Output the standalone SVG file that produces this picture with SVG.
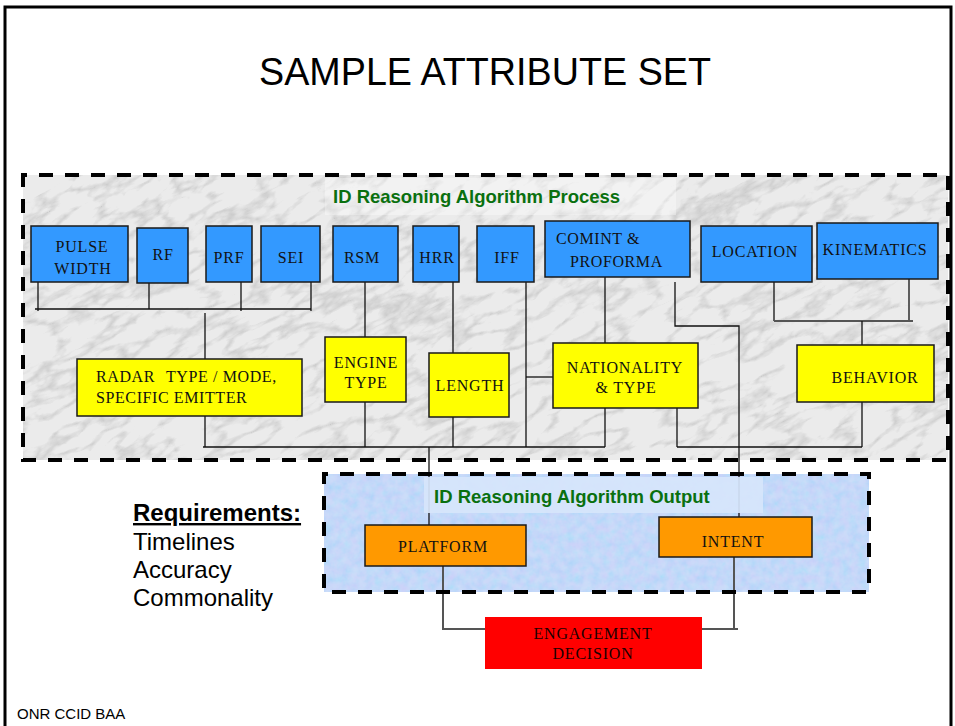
<svg xmlns="http://www.w3.org/2000/svg" width="955" height="726" viewBox="0 0 955 726">
<style>
.frame{fill:none;stroke:#000;stroke-width:3}
.dash{stroke:#000;stroke-width:4;stroke-dasharray:14 12}
.blue{fill:#3399ff;stroke:#1a1a1a;stroke-width:1.5}
.yel{fill:#ffff00;stroke:#1a1a1a;stroke-width:1.5}
.org{fill:#ff9900;stroke:#1a1a1a;stroke-width:1.5}
.red{fill:#ff0000}
.lbl{font-family:"Liberation Serif","Times New Roman",serif;font-size:16px;letter-spacing:0.8px;fill:#111;text-anchor:middle}
.lbll{font-family:"Liberation Serif","Times New Roman",serif;font-size:16px;letter-spacing:0.6px;fill:#111}
.grn{font-family:"Liberation Sans",Arial,sans-serif;font-size:18.5px;font-weight:bold;fill:#0a700f}
.sans{font-family:"Liberation Sans",Arial,sans-serif;fill:#000}
#connectors line,#connectors polyline{stroke:#111;stroke-width:1.3;fill:none}
#connectors .gr{stroke:#555;stroke-width:2}
</style>
<defs>
<filter id="marble" x="0" y="0" width="100%" height="100%" filterUnits="objectBoundingBox">
<feTurbulence type="turbulence" baseFrequency="0.02 0.05" numOctaves="4" seed="7" result="t"/>
<feColorMatrix in="t" type="matrix" values="0 0 0 0 0.5  0 0 0 0 0.5  0 0 0 0 0.5  -2.4 0 0 0 0.7"/>
</filter>
<filter id="speck" x="0" y="0" width="100%" height="100%" filterUnits="objectBoundingBox">
<feTurbulence type="fractalNoise" baseFrequency="0.12" numOctaves="3" seed="4"/>
<feColorMatrix type="matrix" values="1.1 0 0 0 0.25  0 0.5 0 0 0.6  0 0 0 0 1  0 0 0 0 0.3"/>
</filter>
<clipPath id="procClip"><rect x="23" y="175" width="925" height="285"/></clipPath>
<clipPath id="outClip"><rect x="324" y="474" width="545" height="118"/></clipPath>
</defs>
<rect width="955" height="726" fill="#fff"/>
<path class="frame" d="M5,740 V7 H951 V740"/>
<text class="sans" x="485" y="85" font-size="39" text-anchor="middle" textLength="452" lengthAdjust="spacingAndGlyphs">SAMPLE ATTRIBUTE SET</text>

<g id="process-area">
<rect x="23" y="175" width="925" height="285" fill="#ebebeb"/>
<g clip-path="url(#procClip)">
<rect x="-100" y="0" width="1200" height="700" filter="url(#marble)" transform="rotate(-28 485 318)"/>
</g>
<rect x="325" y="178" width="351" height="37" fill="#fff" opacity="0.35"/>
<path class="dash" fill="none" d="M23,185 V175 H948 V460 H23 Z"/>
<text class="grn" x="333" y="203">ID Reasoning Algorithm Process</text>
</g>

<g id="output-area">
<rect x="324" y="474" width="545" height="118" fill="#b4cff7"/>
<g clip-path="url(#outClip)">
<rect x="324" y="474" width="545" height="118" filter="url(#speck)"/>
</g>
</g>

<g id="connectors">
<line x1="38" y1="282" x2="38" y2="311"/>
<line x1="149" y1="283" x2="149" y2="309"/>
<line x1="241" y1="282" x2="241" y2="311"/>
<line x1="311" y1="282" x2="311" y2="311"/>
<line x1="35" y1="309" x2="311" y2="309"/>
<line x1="205" y1="313" x2="205" y2="359"/>
<line x1="205" y1="416" x2="205" y2="447"/>
<line x1="365" y1="282" x2="365" y2="337"/>
<line x1="365" y1="402" x2="365" y2="447"/>
<line x1="453" y1="282" x2="453" y2="353"/>
<line x1="453" y1="417" x2="453" y2="447"/>
<line x1="526" y1="282" x2="526" y2="447"/>
<line x1="526" y1="377" x2="553" y2="377"/>
<line x1="605" y1="277" x2="605" y2="343"/>
<line x1="605" y1="408" x2="605" y2="447"/>
<line x1="203" y1="447" x2="605" y2="447"/>
<polyline points="675,282 675,326 739,326 739,517"/>
<line x1="429" y1="447" x2="429" y2="525"/>
<line x1="677" y1="408" x2="677" y2="447"/>
<line x1="677" y1="447" x2="862" y2="447"/>
<line x1="862" y1="402" x2="862" y2="447"/>
<line x1="774" y1="282" x2="774" y2="321"/>
<line x1="909" y1="279" x2="909" y2="321"/>
<line class="gr" x1="774" y1="321" x2="913" y2="321"/>
<line x1="862" y1="321" x2="862" y2="345"/>
<polyline class="gr" points="443,566 443,629 485,629"/>
<polyline class="gr" points="702,629 738,629"/>
<line class="gr" x1="734" y1="557" x2="734" y2="629"/>
</g>

<g id="output-frame">
<rect x="424" y="477" width="339" height="36" fill="#d6e5fb" opacity="0.93"/>
<path class="dash" fill="none" d="M324,484 V474 H869 V592 H324 Z"/>
<text class="grn" x="434" y="503">ID Reasoning Algorithm Output</text>
</g>

<g id="pulse-width"><rect class="blue" x="31" y="226" width="97" height="56"/><text class="lbl" x="82" y="252">PULSE</text><text class="lbl" x="83" y="274">WIDTH</text></g>
<g id="rf"><rect class="blue" x="137" y="228" width="51" height="55"/><text class="lbl" x="163" y="260">RF</text></g>
<g id="prf"><rect class="blue" x="206" y="226" width="46" height="56"/><text class="lbl" x="229" y="263">PRF</text></g>
<g id="sei"><rect class="blue" x="261" y="226" width="59" height="56"/><text class="lbl" x="291" y="263">SEI</text></g>
<g id="rsm"><rect class="blue" x="333" y="226" width="65" height="56"/><text class="lbl" x="362" y="263">RSM</text></g>
<g id="hrr"><rect class="blue" x="413" y="226" width="46" height="56"/><text class="lbl" x="437" y="263">HRR</text></g>
<g id="iff"><rect class="blue" x="477" y="226" width="57" height="56"/><text class="lbl" x="507" y="263">IFF</text></g>
<g id="comint"><rect class="blue" x="545" y="221" width="145" height="56"/><text class="lbll" x="556" y="244">COMINT &amp;</text><text class="lbll" x="570" y="267">PROFORMA</text></g>
<g id="location"><rect class="blue" x="701" y="226" width="111" height="56"/><text class="lbl" x="755" y="257">LOCATION</text></g>
<g id="kinematics"><rect class="blue" x="817" y="223" width="121" height="56"/><text class="lbl" x="875" y="255">KINEMATICS</text></g>

<g id="radar"><rect class="yel" x="77" y="359" width="225" height="57"/><text class="lbll" y="382"><tspan x="96">RADAR</tspan><tspan x="166">TYPE / MODE,</tspan></text><text class="lbll" x="96" y="403">SPECIFIC EMITTER</text></g>
<g id="engine-type"><rect class="yel" x="325" y="337" width="81" height="65"/><text class="lbl" x="366" y="368">ENGINE</text><text class="lbl" x="366" y="388">TYPE</text></g>
<g id="length"><rect class="yel" x="429" y="353" width="80" height="64"/><text class="lbl" x="470" y="391">LENGTH</text></g>
<g id="nationality"><rect class="yel" x="553" y="343" width="145" height="65"/><text class="lbl" x="625" y="373">NATIONALITY</text><text class="lbl" x="626" y="393">&amp; TYPE</text></g>
<g id="behavior"><rect class="yel" x="797" y="345" width="137" height="57"/><text class="lbl" x="875" y="383">BEHAVIOR</text></g>

<g id="platform"><rect class="org" x="365" y="525" width="161" height="41"/><text class="lbl" x="443" y="552">PLATFORM</text></g>
<g id="intent"><rect class="org" x="659" y="517" width="153" height="40"/><text class="lbl" x="733" y="547">INTENT</text></g>
<g id="engagement"><rect class="red" x="485" y="617" width="217" height="52"/><text class="lbl" x="593" y="639" style="fill:#1a0000">ENGAGEMENT</text><text class="lbl" x="593" y="659" style="fill:#1a0000">DECISION</text></g>

<g id="requirements">
<text class="sans" x="133" y="521" font-size="24" font-weight="bold" text-decoration="underline">Requirements:</text>
<text class="sans" x="133" y="550" font-size="24">Timelines</text>
<text class="sans" x="133" y="578" font-size="24">Accuracy</text>
<text class="sans" x="133" y="606" font-size="24">Commonality</text>
</g>
<text class="sans" x="17" y="719" font-size="15">ONR CCID BAA</text>
</svg>
